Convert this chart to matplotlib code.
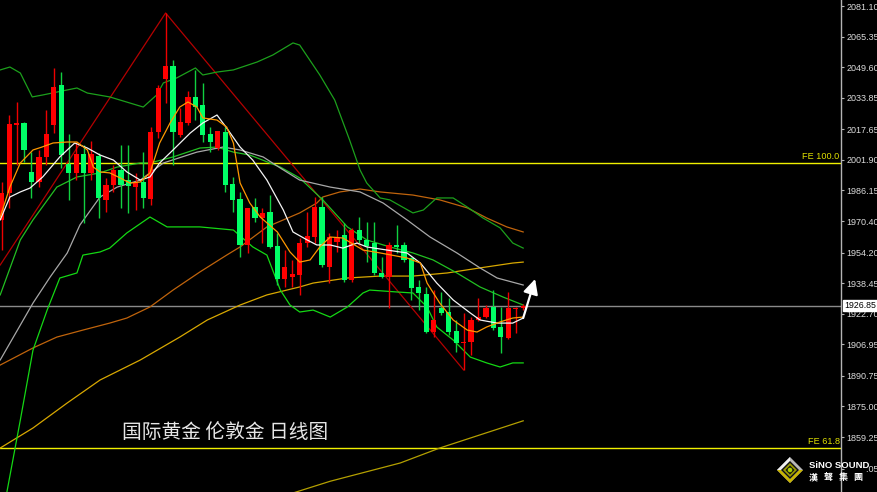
import matplotlib
matplotlib.use("Agg")
import matplotlib.pyplot as plt
import matplotlib.transforms as mtransforms
from matplotlib.patches import Polygon, Circle, Rectangle

# ---------------- data ----------------
opens = [1971.0, 1984.9, 2020.1, 2020.9, 1995.7, 1990.5, 2003.4, 2019.9, 2040.4, 1999.8,
         1995.2, 2004.9, 1995.2, 2003.9, 1981.3, 1989.0, 1996.7, 1991.5, 1987.9, 1990.5,
         1981.8, 2016.3, 2043.5, 2050.2, 2014.7, 2020.9, 2034.3, 2030.1, 2015.2, 2008.0,
         2016.3, 1989.5, 1981.8, 1958.1, 1977.6, 1972.0, 1975.1, 1957.6, 1940.6, 1941.6,
         1942.7, 1959.1, 1962.2, 1977.6, 1946.8, 1959.6, 1963.2, 1940.1, 1965.8, 1960.7,
         1959.1, 1943.7, 1941.6, 1958.1, 1958.1, 1951.4, 1936.5, 1932.9, 1913.3, 1925.7,
         1923.6, 1913.8, 1907.6, 1908.2, 1919.5, 1921.0, 1926.2, 1915.9, 1910.2, 1925.2,
         1925.7]
highs = [1990.5, 2025.0, 2031.7, 2021.4, 2005.9, 2007.0, 2027.6, 2049.2, 2047.1, 2015.2,
         2011.1, 2009.6, 2011.6, 2005.4, 1992.6, 1999.3, 2009.6, 2009.6, 1995.2, 2005.9,
         2018.8, 2040.4, 2077.5, 2053.3, 2028.6, 2037.4, 2048.2, 2041.5, 2018.8, 2016.8,
         2018.8, 1993.1, 1985.4, 1977.2, 1982.3, 1977.2, 1983.8, 1964.3, 1955.5, 1950.4,
         1961.7, 1975.1, 1982.8, 1982.8, 1964.3, 1965.8, 1969.4, 1966.9, 1972.5, 1969.9,
         1969.9, 1951.9, 1959.6, 1968.4, 1959.6, 1951.9, 1940.1, 1936.5, 1934.9, 1933.9,
         1930.8, 1919.5, 1923.1, 1921.0, 1930.8, 1927.2, 1934.9, 1926.2, 1933.9, 1926.2,
         1927.7]
lows = [1955.5, 1977.2, 1999.3, 2000.8, 1982.3, 1987.9, 1999.3, 2015.7, 1997.7, 1981.3,
        1991.5, 1969.4, 1991.5, 1972.0, 1975.1, 1985.4, 1977.2, 1974.6, 1976.1, 1977.2,
        1978.7, 2013.2, 2031.2, 1999.3, 2013.7, 2019.9, 2022.4, 2011.1, 2005.9, 2007.0,
        1985.4, 1975.1, 1951.9, 1954.0, 1969.9, 1959.1, 1956.5, 1937.5, 1936.5, 1936.5,
        1932.4, 1957.1, 1959.1, 1946.8, 1938.5, 1954.5, 1939.0, 1939.0, 1959.1, 1949.3,
        1942.7, 1941.1, 1925.7, 1954.0, 1949.3, 1929.8, 1924.6, 1912.8, 1910.7, 1922.1,
        1911.8, 1903.0, 1893.8, 1901.5, 1919.0, 1920.5, 1914.3, 1902.5, 1909.8, 1912.8,
        1924.6]
closes = [1984.9, 2020.4, 2020.6, 2007.0, 1990.5, 2003.4, 2015.2, 2039.4, 2004.4, 1995.2,
          2004.9, 1995.2, 2004.9, 1982.3, 1989.0, 1996.7, 1989.0, 1988.5, 1990.0, 1982.3,
          2016.3, 2038.9, 2050.2, 2016.3, 2021.4, 2034.3, 2029.1, 2014.7, 2011.1, 2016.8,
          1989.0, 1981.3, 1958.1, 1977.2, 1972.0, 1974.6, 1957.1, 1940.6, 1946.8, 1943.2,
          1959.1, 1962.7, 1977.6, 1947.8, 1962.2, 1961.7, 1940.1, 1965.8, 1960.7, 1957.6,
          1943.7, 1941.6, 1958.1, 1957.1, 1950.4, 1935.9, 1933.4, 1913.3, 1919.5, 1923.1,
          1913.3, 1907.6, 1908.2, 1919.5, 1921.0, 1925.7, 1915.4, 1910.7, 1925.7, 1925.7,
          1926.85]

# indicator lines: bar position (x) and price (y)
bb_upper_x = [-0.2, 1.1, 2.5, 4.1, 5.5, 8.8, 10.1, 11.5, 14.5, 19.0, 20.8, 21.7, 23.5, 26.0,
              27.0, 28.9, 31.1, 34.3, 36.4, 39.1, 40.0, 42.7, 44.7, 46.7, 48.1, 49.0, 50.8,
              52.1, 55.2, 56.6, 58.4, 60.6, 62.5, 64.6, 66.9, 68.6, 70.0]
bb_upper_y = [2048.2, 2049.7, 2046.6, 2034.3, 2035.3, 2037.9, 2038.9, 2036.3, 2034.3, 2029.1,
              2035.3, 2041.5, 2044.1, 2049.2, 2045.6, 2047.1, 2048.2, 2052.3, 2055.9, 2062.1,
              2061.0, 2045.6, 2032.7, 2012.1, 1996.7, 1990.0, 1982.3, 1981.3, 1974.6, 1976.1,
              1982.3, 1982.3, 1977.6, 1972.0, 1966.9, 1959.1, 1956.5]
bb_mid_x = [-0.2, 2.5, 4.2, 7.4, 10.1, 13.2, 15.5, 18.6, 19.9, 23.0, 26.6, 28.9, 31.1, 33.3,
            36.0, 37.4, 40.0, 43.1, 46.4, 49.0, 52.1, 55.2, 57.9, 61.1, 64.2, 67.3, 70.0]
bb_mid_y = [1932.4, 1960.7, 1971.0, 1987.9, 1993.1, 1995.2, 1998.2, 2000.3, 2000.3, 2003.4,
            2008.0, 2008.5, 2005.9, 2004.4, 2000.3, 1998.2, 1992.6, 1981.3, 1967.4, 1960.7,
            1957.1, 1954.0, 1950.4, 1943.7, 1936.5, 1931.3, 1927.2]
bb_low_x = [-0.2, 0.7, 2.5, 4.2, 6.1, 7.8, 10.1, 10.9, 13.2, 14.5, 16.8, 19.9, 22.2, 26.6,
            31.1, 33.7, 35.6, 37.4, 38.7, 40.0, 41.8, 44.1, 46.4, 48.5, 49.4, 53.1, 55.2,
            57.1, 58.4, 60.6, 62.9, 65.1, 66.9, 68.6, 70.0]
bb_low_y = [1811.4, 1831.0, 1868.0, 1904.0, 1924.6, 1941.1, 1943.7, 1952.9, 1954.5, 1956.5,
            1964.3, 1972.5, 1967.4, 1967.4, 1965.8, 1957.1, 1952.9, 1934.9, 1927.2, 1923.6,
            1924.6, 1921.0, 1926.2, 1933.4, 1934.9, 1933.9, 1933.4, 1926.2, 1915.9, 1909.2,
            1900.4, 1897.4, 1895.3, 1897.4, 1897.4]
ma_orange_x = [-0.2, 1.1, 2.5, 4.2, 5.4, 6.9, 8.8, 10.1, 11.5, 12.3, 13.2, 14.5, 15.9, 17.2,
               18.6, 19.9, 21.2, 22.6, 23.9, 25.0, 26.2, 27.0, 28.9, 30.2, 31.1, 32.0, 33.3,
               34.7, 37.0, 38.7, 40.0, 41.4, 42.7, 44.1, 45.8, 48.5, 50.8, 54.4, 56.2, 57.1,
               58.8, 60.6, 62.5, 63.8, 65.1, 66.9, 68.6, 70.0]
ma_orange_y = [1972.5, 1987.9, 2000.3, 2007.0, 2008.5, 2010.6, 2011.1, 2011.1, 2007.0, 1998.2,
               1995.7, 1995.2, 1992.6, 1990.0, 1990.5, 1995.2, 2010.6, 2020.9, 2029.1, 2031.7,
               2029.1, 2023.5, 2022.4, 2018.8, 2010.6, 1990.0, 1979.7, 1972.5, 1964.8, 1954.5,
               1949.3, 1950.4, 1957.1, 1962.2, 1961.7, 1955.5, 1954.0, 1951.4, 1948.8, 1938.5,
               1928.2, 1919.5, 1914.3, 1913.3, 1915.9, 1918.5, 1920.5, 1921.0]
ma_white_x = [-0.2, 1.1, 2.5, 3.8, 5.5, 7.8, 9.8, 11.5, 13.2, 15.0, 16.8, 18.6, 19.9, 21.2,
              23.0, 25.3, 27.0, 28.9, 30.2, 32.0, 33.7, 35.6, 37.8, 39.1, 41.0, 42.3, 44.1,
              45.8, 47.7, 49.0, 51.7, 54.4, 56.2, 58.4, 60.6, 62.9, 64.2, 66.5, 68.6, 70.0]
ma_white_y = [1971.0, 1982.8, 1985.4, 1987.4, 1993.1, 2003.4, 2010.6, 2008.0, 2004.4, 2001.8,
              1995.7, 1991.5, 1993.1, 2000.3, 2007.0, 2015.7, 2020.9, 2025.0, 2018.3, 2008.5,
              2001.8, 1991.5, 1976.1, 1964.8, 1960.7, 1958.1, 1958.1, 1956.5, 1959.1, 1957.1,
              1955.5, 1954.0, 1948.8, 1938.5, 1929.8, 1923.1, 1919.5, 1917.9, 1917.9, 1920.5]
ma_grey_x = [-0.2, 4.2, 6.5, 8.8, 10.5, 13.2, 15.5, 18.6, 21.7, 26.2, 29.7, 32.0, 35.1, 37.4,
             40.0, 44.1, 48.1, 51.2, 54.4, 57.5, 61.1, 64.2, 66.5, 70.0]
ma_grey_y = [1898.9, 1928.2, 1941.6, 1954.0, 1968.4, 1982.8, 1987.9, 1991.5, 2000.3, 2005.9,
             2008.5, 2007.0, 2003.4, 1997.7, 1991.5, 1987.9, 1985.4, 1979.7, 1971.0, 1962.2,
             1954.0, 1946.3, 1941.1, 1937.5]
ma_brown_x = [-0.2, 4.2, 7.4, 10.9, 14.5, 16.8, 19.9, 23.0, 26.6, 30.2, 32.0, 35.6, 40.0,
              42.3, 43.1, 45.4, 48.1, 50.8, 55.2, 58.8, 62.5, 65.1, 67.8, 70.0]
ma_brown_y = [1896.3, 1905.1, 1910.7, 1914.3, 1917.9, 1920.5, 1926.2, 1934.9, 1944.2, 1952.9,
              1957.1, 1967.4, 1974.6, 1979.7, 1982.8, 1985.4, 1986.9, 1985.4, 1983.8, 1981.3,
              1977.2, 1972.0, 1967.4, 1964.8]
ma_gold_x = [-0.2, 4.2, 8.8, 13.2, 18.6, 23.9, 27.6, 32.0, 35.6, 40.0, 41.8, 46.4, 50.8,
             55.2, 59.8, 64.2, 68.6, 70.0]
ma_gold_y = [1853.6, 1863.9, 1876.8, 1888.6, 1898.9, 1910.7, 1919.5, 1927.2, 1932.4, 1936.5,
             1938.5, 1941.1, 1942.1, 1942.1, 1943.7, 1946.3, 1948.8, 1949.3]
ma_olive_x = [37.4, 44.1, 53.5, 58.8, 70.0]
ma_olive_y = [1828.4, 1836.5, 1845.9, 1853.6, 1867.6]
zigzag_x = [-0.2, 22.0, 62.0]
zigzag_y = [1947.8, 2077.5, 1893.8]

fe_levels = [2000.3, 1853.6]
fe_labels = ["FE 100.0", "FE 61.8"]
current_price = 1926.85
arrow_from = (70.0, 1920.5)
arrow_to = (71.6, 1940.6)

tick_values = [2081.10, 2065.35, 2049.60, 2033.85, 2017.65, 2001.90, 1986.15, 1970.40,
               1954.20, 1938.45, 1922.70, 1906.95, 1890.75, 1875.00, 1859.25, 1843.05]
tick_labels = ["%.2f" % v for v in tick_values]
title_text = "国际黄金 伦敦金 日线图"

# ---------------- figure ----------------
W, H = 878, 492
fig = plt.figure(figsize=(W / 100, H / 100), dpi=100, facecolor="black")
ax = fig.add_axes([0, 0, 841 / W, 1])
ax.set_facecolor("black")
ax.set_xlim(-0.228, 112.66)
ax.set_ylim(1830.96, 2084.19)

# horizontal levels
for lv in fe_levels:
    ax.axhline(lv, color="#f0f000", lw=1.0, zorder=1)
ax.axhline(current_price, color="#8a8a8a", lw=1.0, zorder=1)

# indicator lines
lw = 0.9
ax.plot(ma_olive_x, ma_olive_y, color="#b4a000", lw=lw, zorder=2)
ax.plot(ma_gold_x, ma_gold_y, color="#d8a800", lw=lw, zorder=2)
ax.plot(ma_brown_x, ma_brown_y, color="#c0640c", lw=lw, zorder=2)
ax.plot(zigzag_x, zigzag_y, color="#b40000", lw=lw, zorder=2)
ax.plot(bb_upper_x, bb_upper_y, color="#1ca01c", lw=lw, zorder=2)
ax.plot(bb_mid_x, bb_mid_y, color="#22c022", lw=lw, zorder=2)
ax.plot(bb_low_x, bb_low_y, color="#14d814", lw=lw, zorder=2)
ax.plot(ma_grey_x, ma_grey_y, color="#a8a8a8", lw=lw, zorder=2)
ax.plot(ma_white_x, ma_white_y, color="#f4f4f4", lw=lw, zorder=4)
ax.plot(ma_orange_x, ma_orange_y, color="#ff9800", lw=lw, zorder=4)

# candles
up_col, dn_col = "#ff0000", "#00ff66"
up_wick, dn_wick = "#ee0000", "#10d040"
xs = list(range(len(opens)))
for i, o, h, l, c in zip(xs, opens, highs, lows, closes):
    up = c >= o
    ax.vlines(i, l, h, color=up_wick if up else dn_wick, lw=1.0, zorder=3)
    bottom = min(o, c)
    height = max(abs(c - o), 0.6)
    ax.bar(i, height, bottom=bottom, width=0.7, color=up_col if up else dn_col,
           lw=0, zorder=3)

# arrow
ax.annotate("", xy=arrow_to, xytext=arrow_from,
            arrowprops=dict(arrowstyle="-|>,head_length=0.9,head_width=0.45",
                            color="white", lw=1.6, shrinkA=0, shrinkB=0), zorder=6)

# axis styling
for s in ["top", "left", "bottom"]:
    ax.spines[s].set_visible(False)
ax.spines["right"].set_color("#b4b4b4")
ax.spines["right"].set_linewidth(1.0)
ax.set_xticks([])
ax.yaxis.tick_right()
ax.set_yticks(tick_values)
ax.set_yticklabels(tick_labels)
ax.tick_params(axis="y", colors="#b4b4b4", labelcolor="#dcdcdc", length=2.2, width=0.8,
               pad=1.6, labelsize=6.5)
for lab in ax.get_yticklabels():
    lab.set_fontfamily("Liberation Sans")

# FE labels
blend = mtransforms.blended_transform_factory(ax.transAxes, ax.transData)
for lv, txt in zip(fe_levels, fe_labels):
    ax.text(0.9985, lv + 0.9, txt, transform=blend, ha="right", va="bottom",
            color="#e0e000", fontsize=6.6, family="Liberation Sans")

# current price box
fblend = mtransforms.blended_transform_factory(fig.transFigure, ax.transData)
fig.text(844 / W, current_price, "1926.85", transform=fblend, ha="left", va="center",
         color="black", fontsize=6.3, family="Liberation Sans",
         bbox=dict(boxstyle="square,pad=0.12", fc="white", ec="white"))

# overlay in pixel coordinates for title and logo
ov = fig.add_axes([0, 0, 1, 1], facecolor="none")
ov.set_xlim(0, W)
ov.set_ylim(H, 0)
ov.axis("off")

ov.text(122, 433, title_text, color="#e6e6e6", fontsize=14.2,
        family=["Noto Sans CJK SC", "DejaVu Sans"], va="center", ha="left")

# logo
ov.add_patch(Rectangle((845, 458), 21, 28, fc="black", ec="none"))
cx, cy = 790, 470
ov.add_patch(Polygon([(cx, cy - 13), (cx + 13, cy), (cx, cy + 13), (cx - 13, cy)],
                     closed=True, fc="#b8b8b8", ec="none"))
ov.add_patch(Polygon([(cx - 13, cy), (cx, cy + 13), (cx + 13, cy), (cx + 9, cy), (cx, cy + 9),
                      (cx - 9, cy)], closed=True, fc="#c8b400", ec="none"))
ov.add_patch(Polygon([(cx, cy - 13), (cx - 13, cy), (cx - 9, cy), (cx, cy - 9)],
                     closed=True, fc="#f0f0f0", ec="none"))
ov.add_patch(Polygon([(cx, cy - 9), (cx + 9, cy), (cx, cy + 9), (cx - 9, cy)],
                     closed=True, fc="#101010", ec="none"))
ov.add_patch(Polygon([(cx, cy - 7), (cx + 7, cy), (cx, cy + 7), (cx - 7, cy)],
                     closed=True, fc="#9a9a00", ec="none"))
ov.add_patch(Polygon([(cx, cy - 4.5), (cx + 4.5, cy), (cx, cy + 4.5), (cx - 4.5, cy)],
                     closed=True, fc="#101010", ec="none"))
ov.add_patch(Circle((cx, cy), 2.3, fc="#a8d000", ec="none"))
ov.text(809, 466, "SiNO SOUND", color="white", fontsize=6.8, fontweight="bold",
        family="Liberation Sans", va="center", ha="left")
for ch, px in zip("漢聲集團", [813, 828, 843, 858]):
    ov.text(px, 477.5, ch, color="white", fontsize=6.5, family=["Noto Sans CJK TC"],
            va="center", ha="center", fontweight="bold")

fig.savefig("out.png", dpi=100, facecolor="black")
